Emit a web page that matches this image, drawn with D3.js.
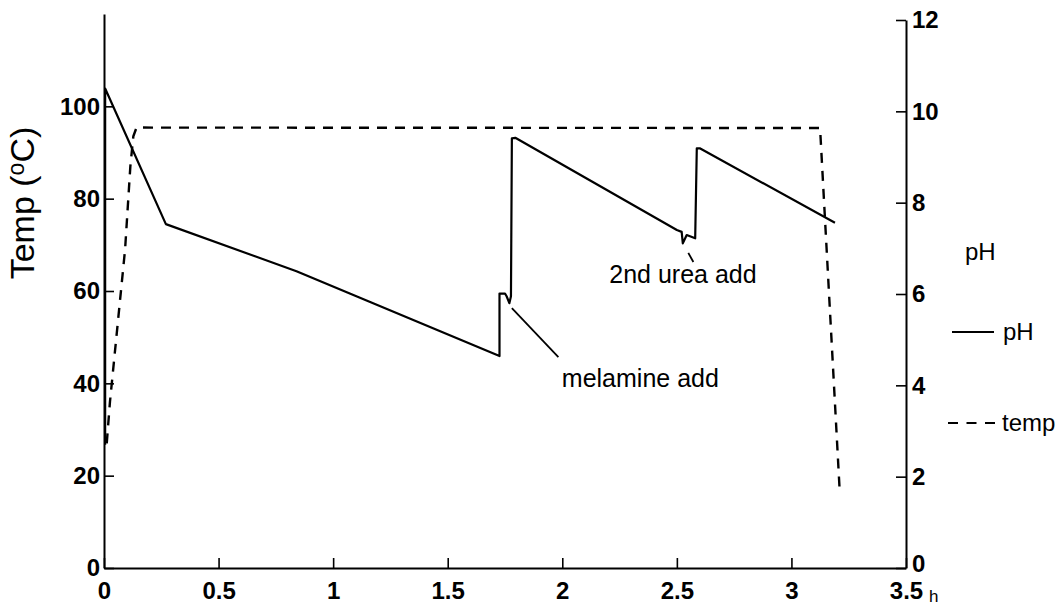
<!DOCTYPE html>
<html><head><meta charset="utf-8">
<script src="https://cdn.jsdelivr.net/npm/d3@7"></script>
<style>
body{margin:0;background:#fff}
svg{display:block;font-family:"Liberation Sans",Arial,sans-serif}
</style>
</head><body>
<svg id="c" width="1060" height="605"></svg>
<script>
// ---- data ----
const phTime  = [0.005,0.005,0.27,0.84,1.726,1.726,1.75,1.757,1.769,1.776,1.780,1.795,2.50,2.521,2.526,2.543,2.58,2.587,2.60,3.19];
const phValue = [2.7,10.5,7.53,6.5,4.64,6.01,6.01,5.95,5.80,5.95,9.41,9.42,7.40,7.36,7.11,7.29,7.22,9.19,9.19,7.56];
const tempTime  = [0.012,0.026,0.092,0.115,0.128,0.142,3.125,3.21];
const tempValue = [27,36,69,87,93.5,95.4,95.3,17.3];
const xTicks = [0,0.5,1,1.5,2,2.5,3,3.5];
const xTickLabels = ["0","0.5","1","1.5","2","2.5","3","3.5"];
const tempTicks = [0,20,40,60,80,100];
const phTicks = [0,2,4,6,8,10,12];
// annotations: [t1,pH1,t2,pH2] leader lines and label anchors
const annoLabels = ["melamine add","2nd urea add"];
const annoLeader = [[1.78,5.69,1.983,4.62],[2.55,6.9,2.572,6.7]];
const annoText = [[1.998,3.96],[2.205,6.24]];

const svg = d3.select("#c");
const x = d3.scaleLinear().domain([0,3.5]).range([104,906]);
const yT = d3.scaleLinear().domain([0,120]).range([568,14]);
const yP = d3.scaleLinear().domain([0,12]).range([568,20]);

function styleAxis(g){
  g.select(".domain").attr("stroke","#000").attr("stroke-width",2);
  g.selectAll(".tick line").attr("stroke","#000").attr("stroke-width",1.6);
  g.selectAll(".tick text").attr("fill","#000").attr("font-size",24).attr("font-weight","bold")
   .attr("font-family",'"Liberation Sans",Arial,sans-serif');
}

// left axis
svg.append("g").attr("transform",`translate(${x(0)},0)`)
  .call(d3.axisLeft(yT).tickValues(tempTicks).tickSizeInner(-10).tickSizeOuter(0).tickPadding(4))
  .call(styleAxis);
// right axis
const rAxis = svg.append("g").attr("transform",`translate(${x(3.5)},0)`)
  .call(d3.axisRight(yP).tickValues(phTicks).tickSizeInner(-10).tickSizeOuter(0).tickPadding(6))
  .call(styleAxis);
rAxis.selectAll(".tick text").filter(d=>d===0).attr("dy","0.14em");
// bottom axis
svg.append("g").attr("transform",`translate(0,${yT(0)})`)
  .call(d3.axisBottom(x).tickValues(xTicks).tickFormat((d,i)=>xTickLabels[i]).tickSizeInner(-10).tickSizeOuter(0).tickPadding(14))
  .call(styleAxis);

svg.append("text").attr("x",x(3.5)+23).attr("y",yT(0)+34).attr("font-size",17).text("h");

// axis title
const title = svg.append("text").attr("transform",`translate(34,203) rotate(-90)`).attr("text-anchor","middle")
  .attr("font-size",34);
title.append("tspan").text("Temp (");
title.append("tspan").attr("font-size",23).attr("dy",-10).text("o");
title.append("tspan").attr("dy",10).text("C)");

// lines
const phLine = d3.line().x(d=>x(d[0])).y(d=>yP(d[1]));
const tLine = d3.line().x(d=>x(d[0])).y(d=>yT(d[1]));
svg.append("path").datum(phTime.map((t,i)=>[t,phValue[i]])).attr("d",phLine)
  .attr("fill","none").attr("stroke","#000").attr("stroke-width",2.2).attr("stroke-linejoin","round");
svg.append("path").datum(tempTime.map((t,i)=>[t,tempValue[i]])).attr("d",tLine)
  .attr("fill","none").attr("stroke","#000").attr("stroke-width",2.4).attr("stroke-dasharray","10,8");

// annotations
annoLeader.forEach(a=>{
  svg.append("line").attr("x1",x(a[0])).attr("y1",yP(a[1])).attr("x2",x(a[2])).attr("y2",yP(a[3]))
    .attr("stroke","#000").attr("stroke-width",1.8);
});
annoText.forEach((a,i)=>{
  svg.append("text").attr("x",x(a[0])).attr("y",yP(a[1])).attr("font-size",25).text(annoLabels[i]);
});

// legend
svg.append("text").attr("x",965).attr("y",260).attr("font-size",24).text("pH");
svg.append("line").attr("x1",952).attr("x2",994).attr("y1",332).attr("y2",332).attr("stroke","#000").attr("stroke-width",2);
svg.append("text").attr("x",1003).attr("y",340).attr("font-size",24).text("pH");
svg.append("line").attr("x1",948).attr("x2",996).attr("y1",423).attr("y2",423).attr("stroke","#000").attr("stroke-width",2).attr("stroke-dasharray","10,8.5");
svg.append("text").attr("x",1002).attr("y",431).attr("font-size",24).text("temp");
</script>
</body></html>
